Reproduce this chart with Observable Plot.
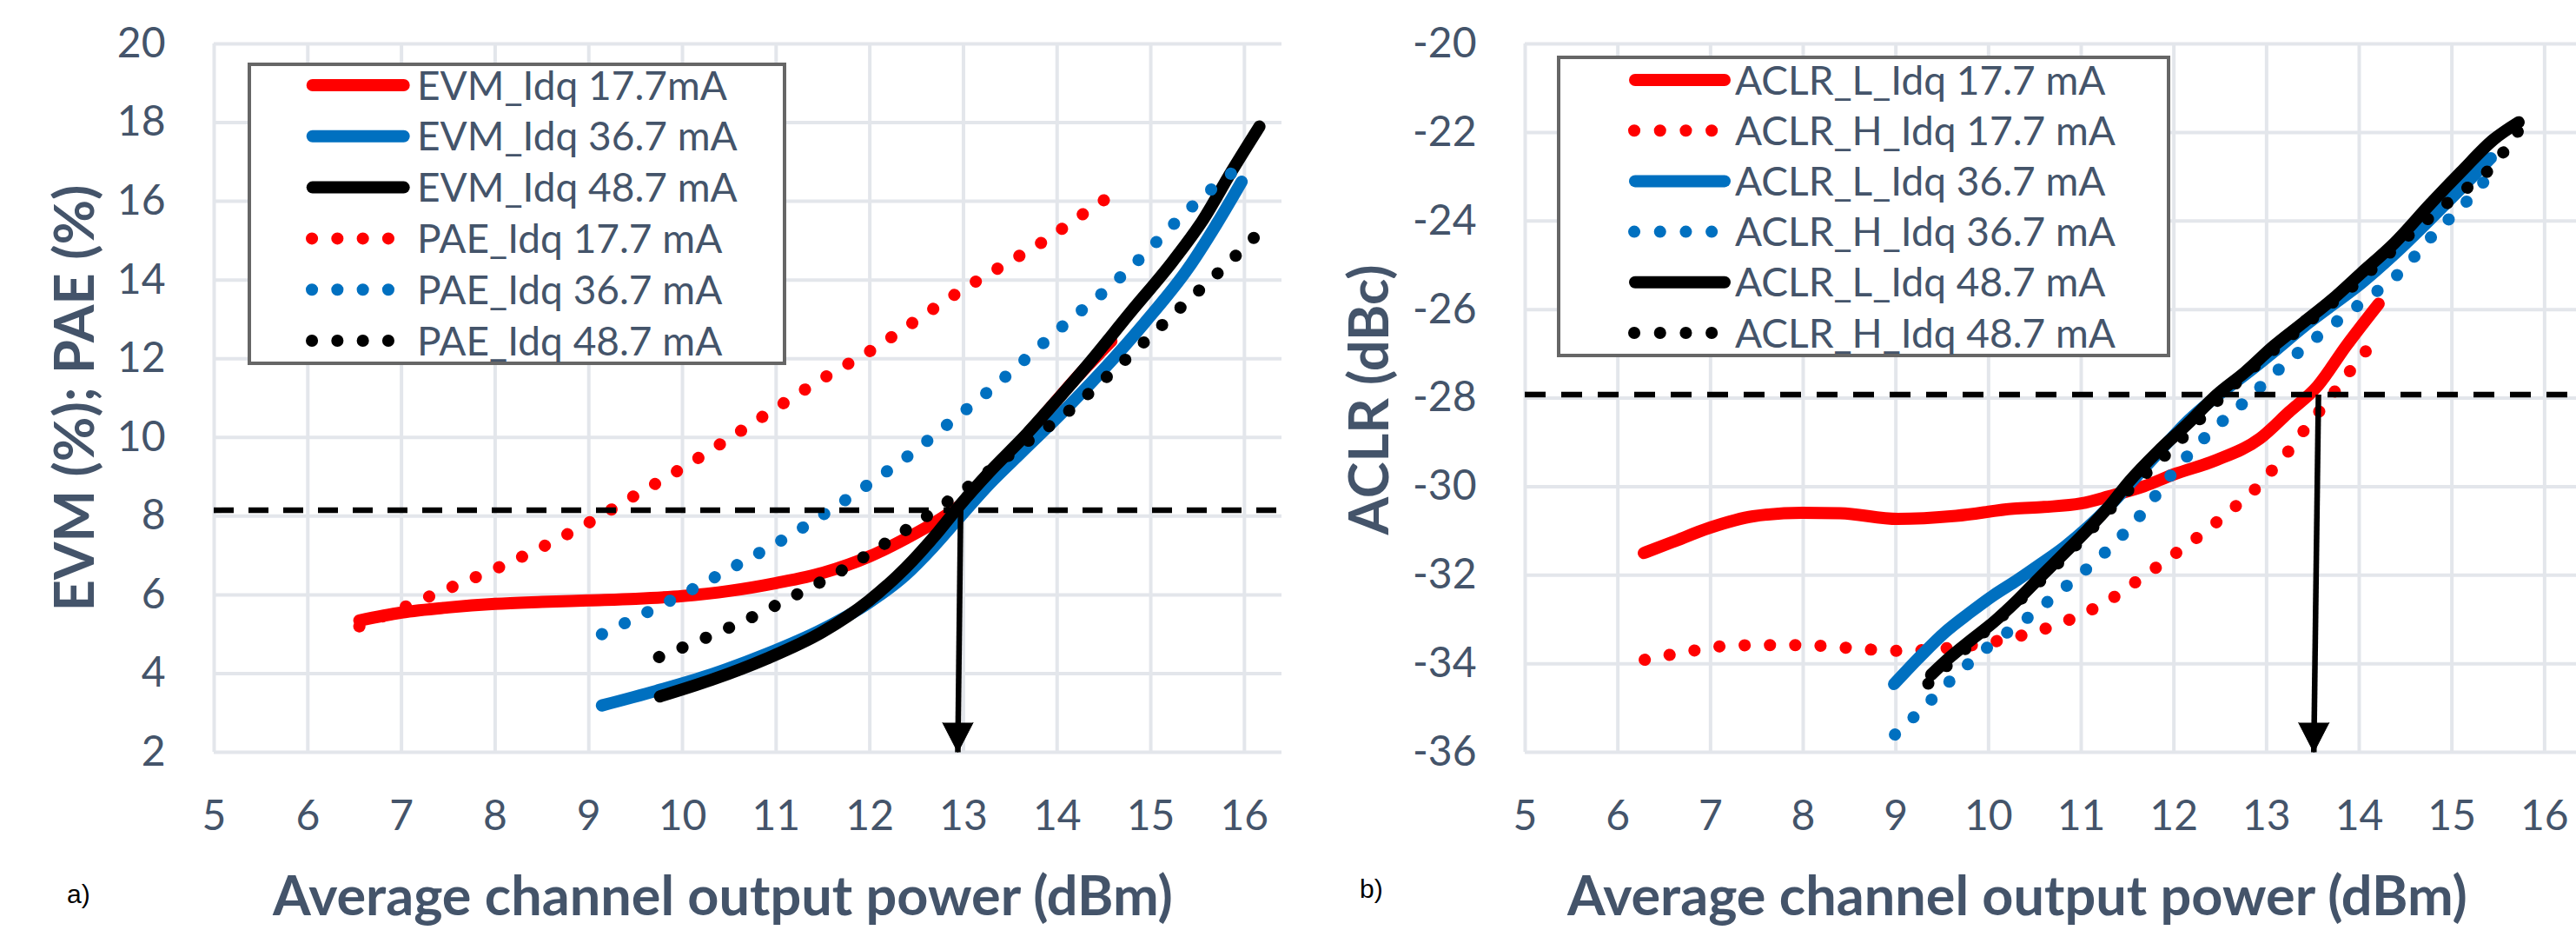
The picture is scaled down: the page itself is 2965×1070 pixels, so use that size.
<!DOCTYPE html>
<html>
<head>
<meta charset="utf-8">
<script src="https://cdn.jsdelivr.net/npm/d3@7"></script>
<script src="https://cdn.jsdelivr.net/npm/@observablehq/plot@0.6"></script>
<style>
  html, body { margin: 0; padding: 0; background: #fff; }
  body { width: 2965px; height: 1070px; position: relative; overflow: hidden; font-family: Lato, "Open Sans", sans-serif; }
  .panel { position: absolute; top: 0; }
  .title { position: absolute; font-family: Lato, sans-serif; font-weight: 700; font-size: 63px; line-height: 63px; color: #44546a; white-space: nowrap; }
  .ytitle { transform: translate(-50%, -50%) rotate(-90deg); }
  .xtitle { transform: translateX(-50%); }
  .tag { position: absolute; font-family: "Liberation Sans", Arial, sans-serif; font-size: 30px; line-height: 30px; color: #000; }
  .legend { position: absolute; }
  .legend svg { display: block; overflow: visible; }
</style>
</head>
<body>
<div id="left" class="panel" style="left:0px; width:1475px"></div>
<div id="right" class="panel" style="left:1490px; width:1481px"></div>
<div class="title xtitle" style="left:832px; top:997px">Average channel output power (dBm)</div>
<div class="title xtitle" style="left:2322px; top:997px">Average channel output power (dBm)</div>
<div class="title ytitle" style="left:83px; top:458px">EVM (%); PAE (%)</div>
<div class="title ytitle" style="left:1573px; top:460px">ACLR (dBc)</div>
<div class="tag" style="left:77px; top:1014px">a)</div>
<div class="tag" style="left:1565px; top:1008px">b)</div>
<div id="legL" class="legend" style="left:273px; top:60px"></div>
<div id="legR" class="legend" style="left:1780px; top:52px"></div>
<script>
// ---------------- Data ----------------
const xTicks = [5, 6, 7, 8, 9, 10, 11, 12, 13, 14, 15, 16];
const evmYTicks = [2, 4, 6, 8, 10, 12, 14, 16, 18, 20];
const aclrYTicks = [-36, -34, -32, -30, -28, -26, -24, -22, -20];

const evmSeries = ["EVM_Idq 17.7mA", "EVM_Idq 36.7 mA", "EVM_Idq 48.7 mA",
                   "PAE_Idq 17.7 mA", "PAE_Idq 36.7 mA", "PAE_Idq 48.7 mA"];
const aclrSeries = ["ACLR_L_Idq 17.7 mA", "ACLR_H_Idq 17.7 mA", "ACLR_L_Idq 36.7 mA",
                    "ACLR_H_Idq 36.7 mA", "ACLR_L_Idq 48.7 mA", "ACLR_H_Idq 48.7 mA"];

// a) EVM (%) and PAE (%) vs average channel output power (dBm)
const evm177 = [[6.55,5.35],[7,5.55],[7.5,5.68],[8,5.77],[8.5,5.82],[9,5.86],[9.5,5.9],[10,5.97],[10.5,6.1],[11,6.3],[11.5,6.56],[12,6.98],[12.4,7.45],[12.7,7.85],[12.95,8.25],[13.3,9.0],[13.8,10.4],[14.2,11.5],[14.58,12.45]];
const evm367 = [[9.14,3.19],[9.72,3.56],[10.31,3.98],[10.9,4.5],[11.49,5.12],[11.99,5.8],[12.38,6.5],[12.68,7.22],[12.94,7.92],[13.27,8.8],[13.62,9.62],[14.0,10.5],[14.47,11.66],[14.93,12.9],[15.4,14.3],[15.71,15.45],[15.97,16.5]];
const evm487 = [[9.76,3.42],[10.31,3.84],[10.9,4.38],[11.49,5.05],[11.99,5.85],[12.38,6.68],[12.73,7.6],[12.97,8.3],[13.27,9.1],[13.68,10.1],[14.0,10.95],[14.31,11.8],[14.78,13.17],[15.24,14.49],[15.55,15.5],[15.86,16.75],[16.16,17.9]];
const pae177 = [[6.55,5.2],[7.04,5.7],[7.54,6.2],[8.04,6.7],[8.54,7.26],[9.02,7.86],[9.49,8.52],[9.96,9.17],[10.41,9.84],[11,10.75],[11.5,11.5],[12.04,12.25],[12.48,12.95],[12.94,13.68],[13.4,14.34],[13.86,14.99],[14.31,15.73],[14.54,16.09]];
const pae367 = [[9.14,5.0],[9.64,5.58],[10.12,6.16],[10.6,6.78],[11.07,7.4],[11.53,8.08],[11.98,8.8],[12.42,9.55],[12.85,10.37],[13.27,11.18],[13.68,12.03],[14.09,12.89],[14.51,13.72],[14.9,14.58],[15.28,15.5],[15.68,16.37],[15.91,16.8]];
const pae487 = [[9.75,4.42],[10.24,4.9],[10.74,5.43],[11.23,6.02],[11.7,6.62],[12.16,7.3],[12.62,8.02],[13.07,8.78],[13.6,9.75],[14.14,10.7],[14.54,11.56],[14.95,12.47],[15.34,13.35],[15.74,14.23],[16.12,15.12]];
const evmLimit = [8.15];
const evmArrow = [{x1: 12.97, y1: 8.15, x2: 12.94, y2: 2}];

// b) ACLR (dBc) vs average channel output power (dBm)
const aclrL177 = [[6.28,-31.5],[6.58,-31.26],[6.99,-30.93],[7.46,-30.67],[7.99,-30.59],[8.4,-30.6],[9.02,-30.73],[9.65,-30.66],[10.27,-30.5],[10.6,-30.46],[11.0,-30.38],[11.3,-30.22],[11.68,-29.99],[11.99,-29.73],[12.46,-29.4],[12.93,-28.91],[13.24,-28.32],[13.55,-27.73],[13.86,-26.82],[14.21,-25.87]];
const aclrH177 = [[6.29,-33.91],[6.56,-33.8],[6.83,-33.7],[7.1,-33.61],[7.5,-33.58],[8.0,-33.58],[8.48,-33.64],[9.02,-33.71],[9.5,-33.66],[10.11,-33.48],[10.38,-33.35],[10.64,-33.19],[10.89,-32.99],[11.14,-32.75],[11.38,-32.46],[11.61,-32.12],[11.84,-31.78],[12.05,-31.46],[12.27,-31.12],[12.48,-30.77],[12.69,-30.4],[12.9,-30.01],[13.08,-29.58],[13.26,-29.14],[13.43,-28.66],[13.6,-28.22],[13.77,-27.76],[13.93,-27.31],[14.1,-26.87]];
const aclrL367 = [[8.98,-34.46],[9.27,-33.82],[9.53,-33.29],[9.79,-32.86],[10.05,-32.46],[10.31,-32.11],[10.56,-31.75],[10.82,-31.36],[11.08,-30.9],[11.3,-30.45],[11.52,-29.95],[11.83,-29.24],[12.15,-28.52],[12.46,-27.96],[12.77,-27.47],[13.08,-26.95],[13.4,-26.39],[13.71,-25.9],[14.02,-25.41],[14.38,-24.75],[14.94,-23.6],[15.42,-22.58]];
const aclrH367 = [[8.99,-35.6],[9.19,-35.21],[9.39,-34.8],[9.58,-34.4],[10.0,-33.61],[10.43,-32.95],[10.86,-32.21],[11.27,-31.46],[11.65,-30.62],[11.98,-29.71],[12.34,-28.88],[12.76,-28.09],[13.15,-27.32],[13.58,-26.56],[14.01,-25.87],[14.45,-25.14],[14.8,-24.31],[15.19,-23.49],[15.45,-22.85]];
const aclrL487 = [[9.38,-34.25],[9.58,-33.86],[9.79,-33.5],[10.05,-33.07],[10.31,-32.57],[10.56,-32.04],[10.82,-31.5],[11.08,-30.95],[11.3,-30.45],[11.52,-29.88],[11.83,-29.2],[12.15,-28.58],[12.46,-27.93],[12.77,-27.41],[13.08,-26.82],[13.4,-26.29],[13.71,-25.77],[14.02,-25.18],[14.38,-24.5],[14.77,-23.61],[15.1,-22.89],[15.45,-22.16],[15.72,-21.77]];
const aclrH487 = [[9.35,-34.45],[9.6,-33.95],[10,-33.2],[10.5,-32.25],[11,-31.2],[11.5,-30.1],[12,-29.1],[12.5,-28.0],[13,-27.05],[13.5,-26.2],[14,-25.35],[14.57,-24.26],[15.0,-23.51],[15.45,-22.73],[15.72,-21.95]];
const aclrLimit = [-27.92];
const aclrArrow = [{x1: 13.56, y1: -27.92, x2: 13.51, y2: -36}];

// ---------------- Styles ----------------
const TEXT = "#44546a";
const GRID = "#e3e6eb";
const RED = "#FF0000", BLUE = "#0070C0", BLACK = "#000000";
const evmColors = [RED, BLUE, BLACK, RED, BLUE, BLACK];
const evmDotted = [false, false, false, true, true, true];
const aclrColors = [RED, RED, BLUE, BLUE, BLACK, BLACK];
const aclrDotted = [false, true, false, true, false, true];

function chart({series, values, colors, dotted, yDomain, yTicks, limit, arrow, width, marginLeft, dash}) {
  const rows = values.flatMap((pts, i) => pts.map(([x, y]) => ({x, y, s: series[i]})));
  const lines = series.map((name, i) => Plot.line(rows.filter(d => d.s === name), {
    x: "x", y: "y", stroke: colors[i], strokeWidth: 14, curve: "monotone-x",
    strokeLinecap: "round", strokeLinejoin: "round",
    ...(dotted[i] ? {strokeDasharray: "0.1 29"} : {})
  }));
  const svg = Plot.plot({
    width, height: 1070,
    marginLeft, marginRight: 0, marginTop: 50, marginBottom: 205,
    x: {domain: [5, 16.4]},
    y: {domain: yDomain},
    style: "font-family: Lato, sans-serif; background: transparent; overflow: visible; max-width: none;",
    marks: [
      Plot.gridX(xTicks, {stroke: GRID, strokeOpacity: 1, strokeWidth: 4}),
      Plot.gridY(yTicks, {stroke: GRID, strokeOpacity: 1, strokeWidth: 4}),
      Plot.axisX(xTicks, {tickSize: 0, tickPadding: 55, fontSize: 48, color: TEXT, tickFormat: d => `${d}`, label: null}),
      Plot.axisY(yTicks, {tickSize: 0, tickPadding: 56, fontSize: 48, color: TEXT, tickFormat: d => `${d}`, label: null}),
      ...lines,
      Plot.ruleY(limit, {stroke: BLACK, strokeWidth: 6.5, strokeDasharray: dash}),
      Plot.link(arrow, {x1: "x1", y1: "y1", x2: "x2", y2: "y2", stroke: BLACK, strokeWidth: 6.5}),
      Plot.vector(arrow, {x: "x2", y: "y2", shape: "spike", anchor: "end", length: 34, r: 17.5, rotate: 180, fill: BLACK, stroke: BLACK, strokeWidth: 1})
    ]
  });
  svg.style.maxWidth = "none";
  return svg;
}

document.getElementById("left").append(chart({
  series: evmSeries, values: [evm177, evm367, evm487, pae177, pae367, pae487],
  colors: evmColors, dotted: evmDotted, yDomain: [2, 20], yTicks: evmYTicks,
  limit: evmLimit, arrow: evmArrow, width: 1475, marginLeft: 246, dash: "23 17"
}));
document.getElementById("right").append(chart({
  series: aclrSeries, values: [aclrL177, aclrH177, aclrL367, aclrH367, aclrL487, aclrH487],
  colors: aclrColors, dotted: aclrDotted, yDomain: [-36, -20], yTicks: aclrYTicks,
  limit: aclrLimit, arrow: aclrArrow, width: 1481, marginLeft: 265, dash: "24 18"
}));

// ---------------- Legends ----------------
function legend(el, labels, colors, dotted, g) {
  const pad = 12;
  const svg = d3.select(el).append("svg").attr("width", g.w + 2 * pad).attr("height", g.h + 2 * pad);
  const root = svg.append("g").attr("transform", `translate(${pad},${pad})`);
  root.append("rect").attr("x", 2).attr("y", 2).attr("width", g.w - 4).attr("height", g.h - 4)
    .attr("fill", "#fff").attr("stroke", "#666").attr("stroke-width", 4);
  labels.forEach((label, i) => {
    const cy = g.row0 + i * g.step;
    const ln = root.append("line").attr("y1", cy).attr("y2", cy)
      .attr("stroke", colors[i]).attr("stroke-width", 14).attr("stroke-linecap", "round");
    if (dotted[i]) ln.attr("x1", g.dot0).attr("x2", g.dot0 + 3 * g.dotStep + 0.1).attr("stroke-dasharray", `0.1 ${g.dotStep - 0.1}`);
    else ln.attr("x1", g.sw0).attr("x2", g.sw1);
    root.append("text").attr("x", g.tx).attr("y", cy).attr("dy", "0.36em")
      .attr("font-family", "Lato, sans-serif").attr("font-size", 46).attr("fill", TEXT).text(label);
  });
}
legend(document.getElementById("legL"), evmSeries, evmColors, evmDotted,
  {w: 620, h: 348, row0: 26, step: 58.8, sw0: 74.7, sw1: 179.7, dot0: 74, dotStep: 29.3, tx: 195});
legend(document.getElementById("legR"), aclrSeries, aclrColors, aclrDotted,
  {w: 706, h: 347, row0: 28, step: 58.2, sw0: 90, sw1: 193, dot0: 89, dotStep: 29.7, tx: 205});
</script>
</body>
</html>
